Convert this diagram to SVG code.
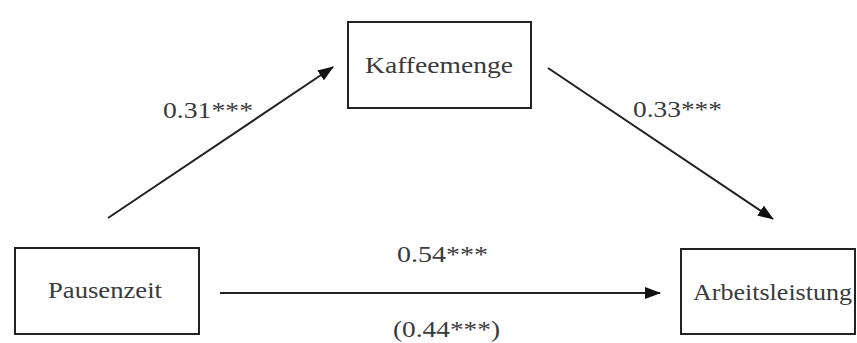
<svg xmlns="http://www.w3.org/2000/svg" width="857" height="343" viewBox="0 0 857 343">
<style>
.box{fill:#fff;stroke:#222;stroke-width:2}
.t{font-family:"Liberation Serif","Times New Roman",serif;font-size:23px;fill:#3a3a3a}
.c{stroke:#222;stroke-width:2;fill:none}
</style>
<defs>
<marker id="ah" markerWidth="16" markerHeight="12" refX="15" refY="6" orient="auto" markerUnits="userSpaceOnUse">
<path d="M0,0 L16,6 L0,12 Z" fill="#111"/>
</marker>
</defs>
<rect width="857" height="343" fill="#fff"/>
<g id="connectors">
<line class="c" x1="108" y1="218" x2="333" y2="67" marker-end="url(#ah)"/>
<line class="c" x1="548" y1="68" x2="773" y2="219" marker-end="url(#ah)"/>
<line class="c" x1="220" y1="293" x2="660" y2="293" marker-end="url(#ah)"/>
<text class="t" x="163" y="118" textLength="90" lengthAdjust="spacingAndGlyphs">0.31***</text>
<text class="t" x="633" y="117" textLength="89" lengthAdjust="spacingAndGlyphs">0.33***</text>
<text class="t" x="397" y="262" textLength="91" lengthAdjust="spacingAndGlyphs">0.54***</text>
<text class="t" x="393" y="337" textLength="107" lengthAdjust="spacingAndGlyphs">(0.44***)</text>
</g>
<g id="kaffeemenge">
<rect class="box" x="348" y="22" width="183" height="86"/>
<text class="t" x="365" y="73" textLength="148" lengthAdjust="spacingAndGlyphs">Kaffeemenge</text>
</g>
<g id="pausenzeit">
<rect class="box" x="15" y="248" width="184" height="86"/>
<text class="t" x="48" y="298" textLength="114" lengthAdjust="spacingAndGlyphs">Pausenzeit</text>
</g>
<g id="arbeitsleistung">
<rect class="box" x="681" y="249" width="174" height="85"/>
<text class="t" x="693" y="300" textLength="159" lengthAdjust="spacingAndGlyphs">Arbeitsleistung</text>
</g>
</svg>
